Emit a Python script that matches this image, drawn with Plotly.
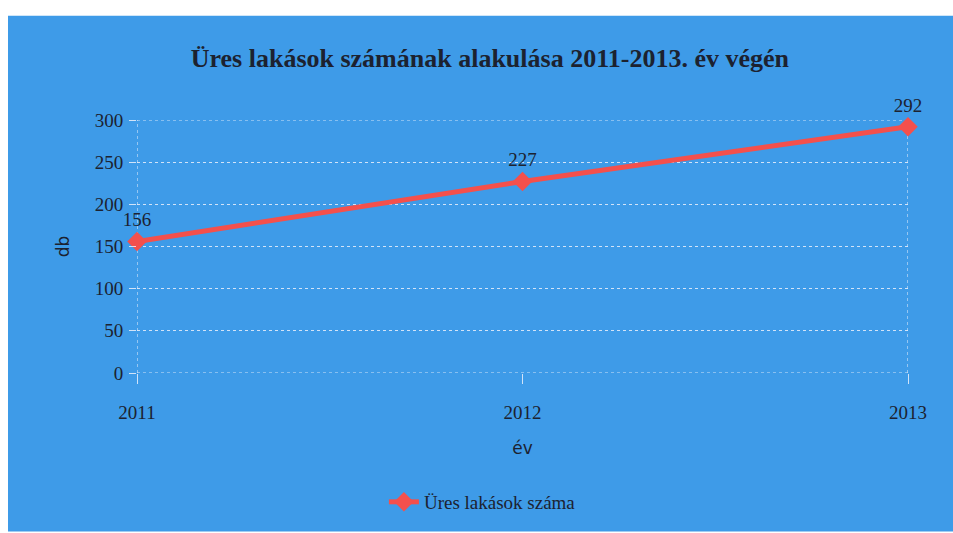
import plotly.graph_objects as go

# Év végi üres lakások száma
years = [2011, 2012, 2013]
empty_flats = [156, 227, 292]
series_name = "Üres lakások száma"
y_ticks = [0, 50, 100, 150, 200, 250, 300]

BLUE = "#3e9be8"
RED = "#f4504c"
GRID = "rgba(235,240,250,0.85)"
TEXT = "#1c2230"
SERIF = "Liberation Serif, Times New Roman, serif"
SANS = "DejaVu Sans, Arial, sans-serif"

W, H = 953, 533
L, R, T, B = 137, 45, 120, 156
pw, ph = W - L - R, H - T - B

fig = go.Figure()

fig.add_trace(go.Scatter(
    x=years,
    y=empty_flats,
    mode="lines+markers+text",
    name=series_name,
    line=dict(color=RED, width=5),
    marker=dict(symbol="diamond", size=15, color=RED),
    text=[str(v) for v in empty_flats],
    textposition="top center",
    textfont=dict(family=SERIF, size=19, color=TEXT),
    cliponaxis=False,
))

dotted = dict(color=GRID, width=1.2, dash="dot")
shapes = [
    # blue chart area with a thin white strip at top and left
    dict(type="rect", xref="paper", yref="paper", layer="below",
         x0=(8 - L) / pw, x1=(W - L + 5) / pw,
         y0=-(B + 5) / ph, y1=1 + (T - 14) / ph,
         fillcolor=BLUE, line=dict(width=0)),
]
# dotted frame lines on the edges of the plotting area
for yr in (years[0], years[-1]):
    shapes.append(dict(type="line", xref="x", yref="y", layer="below",
                       x0=yr, x1=yr, y0=y_ticks[0], y1=y_ticks[-1], line=dotted))
for yv in (y_ticks[0], y_ticks[-1]):
    shapes.append(dict(type="line", xref="x", yref="y", layer="below",
                       x0=years[0], x1=years[-1], y0=yv, y1=yv, line=dotted))

fig.update_layout(
    width=W, height=H,
    margin=dict(l=L, r=R, t=T, b=B),
    paper_bgcolor="white",
    plot_bgcolor="rgba(0,0,0,0)",
    shapes=shapes,
    title=dict(
        text="<b>Üres lakások számának alakulása 2011-2013. év végén</b>",
        x=0.514, xanchor="center", y=1 - 58 / H, yanchor="middle",
        font=dict(family=SERIF, size=26, color=TEXT),
    ),
    showlegend=True,
    legend=dict(
        orientation="h", x=0.448, xanchor="center",
        y=-(508 - (T + ph)) / ph, yanchor="middle",
        font=dict(family=SERIF, size=19, color=TEXT),
        bgcolor="rgba(0,0,0,0)",
        itemwidth=30,
    ),
    xaxis=dict(
        range=[years[0], years[-1]],
        tickvals=years, ticktext=[str(y) for y in years],
        showgrid=False, zeroline=False, showline=False,
        ticks="outside", ticklen=10, tickcolor=GRID, tickwidth=1,
        ticklabelstandoff=12,
        tickfont=dict(family=SERIF, size=19, color=TEXT),
        title=dict(text="év", font=dict(family=SANS, size=17, color=TEXT), standoff=20),
    ),
    yaxis=dict(
        range=[y_ticks[0], y_ticks[-1]],
        tickvals=y_ticks,
        showgrid=True, gridcolor=GRID, gridwidth=1.2, griddash="dot",
        zeroline=False, showline=False,
        ticks="outside", ticklen=7, tickcolor=GRID, tickwidth=1.2,
        ticklabelstandoff=2,
        tickfont=dict(family=SERIF, size=19, color=TEXT),
        title=dict(text="db", font=dict(family=SANS, size=17, color=TEXT), standoff=20),
    ),
)

fig.write_html("out.html")
